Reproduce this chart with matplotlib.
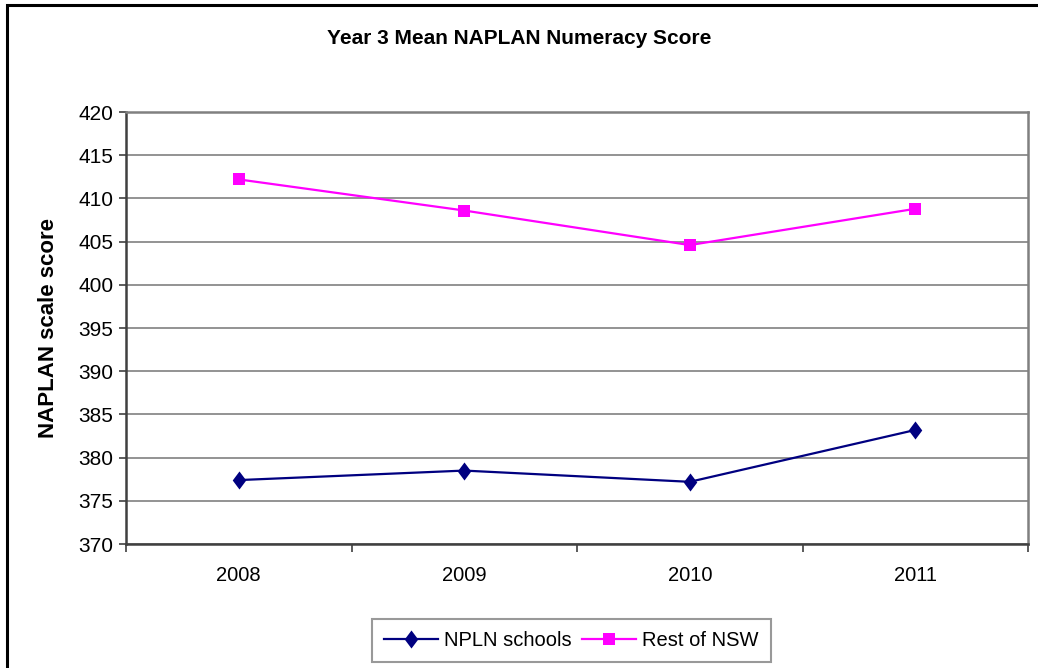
import matplotlib
matplotlib.use("Agg")
import matplotlib.pyplot as plt
from matplotlib.patches import Rectangle

# ----------------------------------------
# Data
# ----------------------------------------

years = ["2008", "2009", "2010", "2011"]
npln_schools = [377.4, 378.5, 377.2, 383.2]
rest_of_nsw = [412.2, 408.6, 404.6, 408.8]

plt.rcParams["font.family"] = ["Liberation Sans", "DejaVu Sans"]

# Excel style diamond (a bit wider than matplotlib's thin diamond)
diamond = [(0, 1), (0.75, 0), (0, -1), (-0.75, 0), (0, 1)]

fig = plt.figure(figsize=(10.38, 6.68), dpi=100)
ax = fig.add_axes([0.1214, 0.1856, 0.8690, 0.6467])

x = list(range(len(years)))

ax.plot(x, npln_schools, color="#000080", linewidth=1.6,
        marker=diamond, markersize=13, markeredgewidth=0,
        label="NPLN schools")
ax.plot(x, rest_of_nsw, color="#FF00FF", linewidth=1.6,
        marker="s", markersize=8.5, markeredgewidth=0,
        label="Rest of NSW")

# axes
ax.set_xlim(-0.5, len(years) - 0.5)
ax.set_ylim(370, 420)
ax.set_yticks(range(370, 421, 5))
ax.yaxis.grid(True, color="#808080", linewidth=1.2)
ax.set_axisbelow(True)

ax.set_xticks(x)
ax.set_xticklabels(years)
ax.set_xticks([i - 0.5 for i in range(len(years) + 1)], minor=True)
ax.tick_params(axis="x", which="major", length=0, labelsize=14.5, pad=16)
ax.tick_params(axis="x", which="minor", length=6, width=1.2,
               color="#404040")
ax.tick_params(axis="y", length=5, width=1.2, color="#404040",
               labelsize=15, pad=4)

for side in ["left", "bottom"]:
    ax.spines[side].set_color("#404040")
    ax.spines[side].set_linewidth(1.8)
for side in ["top", "right"]:
    ax.spines[side].set_color("#808080")
    ax.spines[side].set_linewidth(1.8)

ax.set_ylabel("NAPLAN scale score", fontsize=16, fontweight="bold",
              labelpad=14)

fig.text(0.5, 0.942, "Year 3 Mean NAPLAN Numeracy Score",
         ha="center", va="center", fontsize=15, fontweight="bold")

leg = fig.legend(loc="center", bbox_to_anchor=(0.5504, 0.041),
                 ncol=2, fontsize=14.5, frameon=True, fancybox=False,
                 handlelength=2.7, handletextpad=0.3, columnspacing=0.5,
                 borderpad=0.6, borderaxespad=0)
leg.get_frame().set_edgecolor("#808080")
leg.get_frame().set_linewidth(1.5)

# outer chart frame
fig.patches.append(Rectangle((6.5 / 1038, -0.05), 1.1, 0.05 + (668 - 5) / 668,
                             transform=fig.transFigure, fill=False,
                             edgecolor="black", linewidth=2.2))

fig.savefig("out.png", dpi=100)
